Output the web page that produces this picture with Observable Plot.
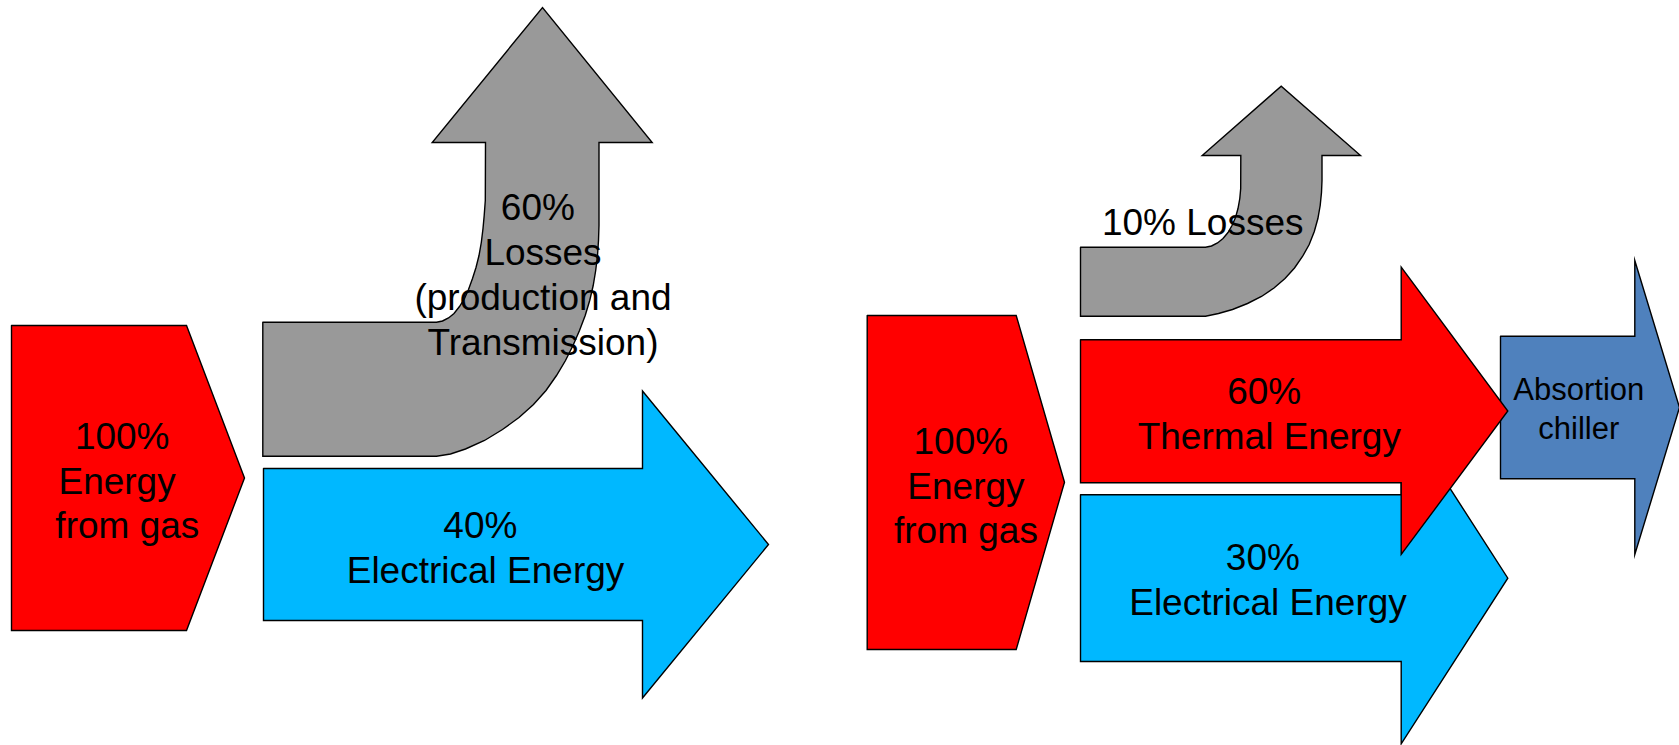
<!DOCTYPE html>
<html>
<head>
<meta charset="utf-8">
<script src="https://cdn.jsdelivr.net/npm/d3@7"></script>
<script src="https://cdn.jsdelivr.net/npm/@observablehq/plot@0.6"></script>
<style>
  html, body { margin: 0; padding: 0; background: #ffffff; overflow: hidden; }
  svg text { white-space: pre; }
</style>
</head>
<body>
<script>
// ---- Shape outlines (vertices, pixel units) ----
const gasInLeft = [[11,325],[186,325],[244,477.5],[186,630],[11,630]];

const lossesLeft = [
  [262.3,321.7],[436,321.7],[442,320.5],[448,317.5],[453.5,313],[459,306],[464,298],[468,289],
  [472,278],[475.5,267],[478.5,255],[480.8,242],[482.5,228],[483.7,215],[484.8,200],[485,142],
  [431.7,142],[542,7],[651.7,142],[598.5,142],[598.5,225],[598,240],[597,255],[595.2,270],
  [592.7,285],[589.2,300],[584.7,315],[579,330],[572.5,345],[565,360],[556,375],[545.5,390],
  [533,404],[518.5,417],[502,429],[484,440],[465,448.5],[450,453.5],[436,455.7],[262.3,455.7]
];

const electricLeft = [[263,468],[642,468],[642,390.5],[768,544],[642,697.5],[642,620],[263,620]];

const gasInRight = [[866.7,315],[1015.7,315],[1064,481.7],[1015.7,649],[866.7,649]];

const lossesRight = [
  [1080,246.7],[1205,246.7],[1211,245.5],[1217,242.5],[1222.5,238],[1227.5,232],[1231.5,225],
  [1235,217],[1237.5,208],[1239.3,198],[1240.2,188],[1240.3,155],[1201.7,155],[1280.7,85.7],
  [1360,155],[1321.5,155],[1321.5,180],[1321,192],[1319.7,205],[1317.4,218],[1313.8,231],
  [1308.7,244],[1302,256],[1294,267.5],[1284.5,278],[1273.5,287.5],[1261,296],[1247,303],
  [1232,309],[1218,313],[1205,315.7],[1080,315.7]
];

const electricRight = [[1080,494.3],[1400.7,494.3],[1400.7,412],[1507.3,577.7],[1400.7,743.3],[1400.7,661],[1080,661]];

const chiller = [[1500,335.7],[1634.3,335.7],[1634.3,260],[1679,407],[1634.3,554],[1634.3,478.3],[1500,478.3]];

const thermalRight = [[1080,339.3],[1400.7,339.3],[1400.7,266.7],[1507.3,410.5],[1400.7,554],[1400.7,482.3],[1080,482.3]];

// ---- Labels ----
const labelTexts = [
  "100%\nEnergy \n from gas",
  "60% \nLosses\n(production and\nTransmission)",
  "40% \nElectrical Energy",
  "100%\n Energy\n from gas",
  "10% Losses",
  "60% \nThermal Energy",
  "30% \nElectrical Energy",
  "Absortion\nchiller"
];
const labelX = [121.7, 542.5, 485, 960.3, 1202.2, 1268.8, 1267.5, 1578.3];
const labelY = [416.5, 188.2, 506.1, 421.5, 203.2, 372.2, 538.2, 372.8];
const labelSize = [37, 37, 37, 37, 37, 37, 37, 31];

// ---- Drawing order and styles ----
const shapes = [
  {pts: gasInLeft, fill: "#ff0000"},
  {pts: lossesLeft, fill: "#999999"},
  {pts: electricLeft, fill: "#00b8ff"},
  {pts: gasInRight, fill: "#ff0000"},
  {pts: lossesRight, fill: "#999999"},
  {pts: electricRight, fill: "#00b8ff"},
  {pts: chiller, fill: "#4f81bd"},
  {pts: thermalRight, fill: "#ff0000"}
];

const W = 1679, H = 745;
const font = "'Liberation Sans', Arial, sans-serif";

const shapeMarks = shapes.map(s => Plot.line([...s.pts, s.pts[0]], {
  x: d => d[0], y: d => d[1],
  fill: s.fill, stroke: "#000000", strokeWidth: 1.4,
  strokeLinejoin: "miter", strokeMiterlimit: 10, curve: "linear"
}));

const labels = labelTexts.map((t, i) => ({t, x: labelX[i], y: labelY[i], s: labelSize[i]}));
const textMarks = [37, 31].map(size => Plot.text(labels.filter(d => d.s === size), {
  x: "x", y: "y", text: "t",
  fontSize: size, fontFamily: font, lineAnchor: "top",
  lineHeight: size === 37 ? 1.21 : 1.235,
  textAnchor: "middle", fill: "#000000"
}));

const chart = Plot.plot({
  width: W, height: H, margin: 0,
  style: {background: "#ffffff"},
  x: {type: "linear", domain: [0, W], range: [0, W], axis: null},
  y: {type: "linear", domain: [0, H], range: [0, H], axis: null},
  marks: [...shapeMarks, ...textMarks]
});
document.body.appendChild(chart);
</script>
</body>
</html>
